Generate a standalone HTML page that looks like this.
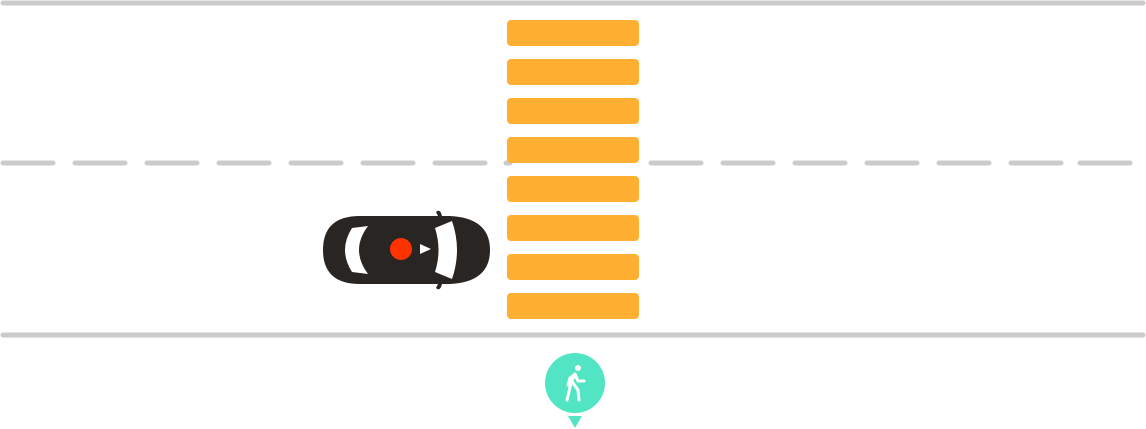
<!DOCTYPE html>
<html><head><style>html,body{margin:0;padding:0;background:#fff;width:1146px;height:429px;overflow:hidden}</style></head>
<body>
<svg width="1146" height="429" viewBox="0 0 1146 429" xmlns="http://www.w3.org/2000/svg">
<line x1="3" y1="3" x2="1143" y2="3" stroke="#cbcbcb" stroke-width="5" stroke-linecap="round"/>
<line x1="3" y1="335" x2="1143" y2="335" stroke="#cbcbcb" stroke-width="5" stroke-linecap="round"/>
<g stroke="#cbcbcb" stroke-width="5" stroke-linecap="round">
<line x1="3" y1="163" x2="53" y2="163"/><line x1="75" y1="163" x2="125" y2="163"/><line x1="147" y1="163" x2="197" y2="163"/><line x1="219" y1="163" x2="269" y2="163"/><line x1="291" y1="163" x2="341" y2="163"/><line x1="363" y1="163" x2="413" y2="163"/><line x1="435" y1="163" x2="485" y2="163"/><line x1="506" y1="163" x2="510" y2="163"/>
<line x1="651" y1="163" x2="701" y2="163"/><line x1="723" y1="163" x2="773" y2="163"/><line x1="795" y1="163" x2="845" y2="163"/><line x1="867" y1="163" x2="917" y2="163"/><line x1="939" y1="163" x2="989" y2="163"/><line x1="1011" y1="163" x2="1061" y2="163"/><line x1="1080" y1="163" x2="1130" y2="163"/>
</g>
<g fill="#FFB033">
<rect x="507" y="20" width="132" height="26" rx="4"/><rect x="507" y="59" width="132" height="26" rx="4"/><rect x="507" y="98" width="132" height="26" rx="4"/><rect x="507" y="137" width="132" height="26" rx="4"/><rect x="507" y="176" width="132" height="26" rx="4"/><rect x="507" y="215" width="132" height="26" rx="4"/><rect x="507" y="254" width="132" height="26" rx="4"/><rect x="507" y="293" width="132" height="26" rx="4"/>
</g>
<g>
<path d="M360 216 L450 216 Q490 218 490 250 Q490 282 450 284 L360 284 Q323 284 323 250 Q323 216 360 216 Z" fill="#282523"/>
<path d="M436 212 Q440 208 442 216 L440 220 Z M436 288 Q440 292 442 284 L440 280 Z" fill="#282523"/>
<path d="M435 228 L452 221 Q462 250 452 279 L435 272 Q442 250 435 228 Z" fill="#fff"/>
<path d="M368 226 L352 228 Q338 250 352 272 L368 274 Q350 250 368 226 Z" fill="#fff"/>
<circle cx="401" cy="249" r="11" fill="#FF3300"/>
<path d="M420 244 L431 249 L420 254 Z" fill="#fff"/>
</g>
<circle cx="575" cy="383" r="30" fill="#52E5C3"/>
<path d="M568 416 L582 416 L575 428 Z" fill="#52E5C3"/>
<g fill="#fff" stroke="#fff" stroke-linecap="round" stroke-linejoin="round">
<circle cx="578" cy="368" r="3" stroke="none"/>
<path d="M575 374 L571 383 L567 400 M573 383 L578 390 L579 400 M575 374 L570 378 L568 385 M575 374 L578 381 L584 381" stroke-width="3" fill="none"/>
</g>
</svg>
</body></html>
